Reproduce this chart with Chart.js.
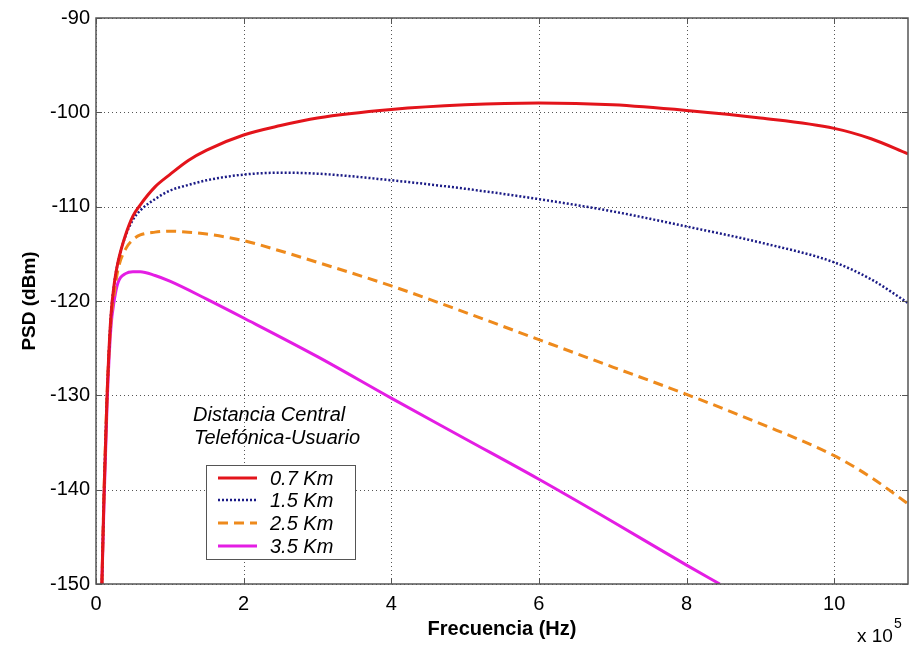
<!DOCTYPE html>
<html>
<head>
<meta charset="utf-8">
<script src="https://cdn.jsdelivr.net/npm/chart.js@4/dist/chart.umd.min.js"></script>
<style>
  html, body { margin: 0; padding: 0; background: #fff; }
  #wrap { width: 916px; height: 646px; }
</style>
</head>
<body>
<div id="wrap"><canvas id="c"></canvas></div>
<script>
// frequencies in units of 1e5 Hz
const freq = [0.08, 0.11, 0.15, 0.2, 0.25, 0.3, 0.4, 0.5, 0.6, 0.8, 1, 1.25, 1.5, 2, 2.5, 3, 4, 5, 6, 7, 8, 9, 10, 10.5, 11];
const freqMag = [0.08, 0.11, 0.15, 0.2, 0.25, 0.3, 0.4, 0.5, 0.6, 0.8, 1, 1.5, 2, 3, 4, 5, 6, 7, 8, 8.45];

const psd07 = [-150, -140, -130, -121.8, -118, -115.8, -113.0, -111.0, -109.8, -107.9, -106.6, -105.1, -104.0, -102.4, -101.4, -100.6, -99.7, -99.2, -99.0, -99.2, -99.8, -100.6, -101.7, -102.8, -104.4];
const psd15 = [-150, -140, -130, -121.8, -118, -115.8, -113.1, -111.4, -110.4, -109.2, -108.3, -107.7, -107.2, -106.6, -106.4, -106.5, -107.2, -108.1, -109.2, -110.5, -112.1, -113.8, -115.9, -117.7, -120.2];
const psd25 = [-150, -140, -130, -122.3, -119.0, -116.6, -114.5, -113.5, -113.0, -112.7, -112.6, -112.7, -112.9, -113.6, -114.7, -115.9, -118.4, -121.2, -124.1, -127.0, -129.9, -133.0, -136.4, -138.7, -141.5];
const psd35 = [-150, -141, -131, -123.0, -119.8, -118.0, -117.1, -116.9, -116.9, -117.3, -117.9, -119.8, -121.8, -125.9, -130.3, -134.6, -138.9, -143.4, -148.0, -150];

const labels = ['0.7 Km', '1.5 Km', '2.5 Km', '3.5 Km'];
const xTicks = [0, 2, 4, 6, 8, 10];
const yTicks = [-150, -140, -130, -120, -110, -100, -90];

const toPts = (xs, ys) => xs.map((x, i) => ({ x: x * 1e5, y: ys[i] }));

const styles = [
  { color: '#e3141b', width: 3, dash: [] },
  { color: '#1b1b86', width: 2.5, dash: [2, 2] },
  { color: '#ee8a1c', width: 3, dash: [10, 6] },
  { color: '#e41de4', width: 3, dash: [] }
];
const series = [toPts(freq, psd07), toPts(freq, psd15), toPts(freq, psd25), toPts(freqMag, psd35)];

const FONT = 'Arial, "Liberation Sans", sans-serif';

const decor = {
  id: 'decor',
  beforeDatasetsDraw(chart) {
    const { ctx, chartArea: a, scales: { x, y } } = chart;
    ctx.save();
    ctx.strokeStyle = '#555';
    ctx.lineWidth = 1;
    ctx.setLineDash([1, 3]);
    xTicks.forEach(t => {
      const px = Math.round(x.getPixelForValue(t * 1e5)) + 0.5;
      ctx.beginPath(); ctx.moveTo(px, a.top); ctx.lineTo(px, a.bottom); ctx.stroke();
    });
    yTicks.forEach(t => {
      const py = Math.round(y.getPixelForValue(t)) + 0.5;
      ctx.beginPath(); ctx.moveTo(a.left, py); ctx.lineTo(a.right, py); ctx.stroke();
    });
    ctx.restore();
  },
  afterDatasetsDraw(chart) {
    const { ctx, chartArea: a, scales: { x, y } } = chart;
    ctx.save();
    // frame + inward ticks
    ctx.strokeStyle = '#555';
    ctx.lineWidth = 1.5;
    ctx.setLineDash([]);
    ctx.strokeRect(a.left, a.top, a.right - a.left, a.bottom - a.top);
    ctx.lineWidth = 1;
    xTicks.forEach(t => {
      const px = Math.round(x.getPixelForValue(t * 1e5)) + 0.5;
      ctx.beginPath();
      ctx.moveTo(px, a.bottom); ctx.lineTo(px, a.bottom - 6);
      ctx.moveTo(px, a.top); ctx.lineTo(px, a.top + 6);
      ctx.stroke();
    });
    yTicks.forEach(t => {
      const py = Math.round(y.getPixelForValue(t)) + 0.5;
      ctx.beginPath();
      ctx.moveTo(a.left, py); ctx.lineTo(a.left + 6, py);
      ctx.moveTo(a.right, py); ctx.lineTo(a.right - 6, py);
      ctx.stroke();
    });

    // annotation
    ctx.fillStyle = '#000';
    ctx.font = 'italic 20px ' + FONT;
    ctx.textAlign = 'left';
    ctx.textBaseline = 'middle';
    ctx.fillText('Distancia Central', 193, 415);
    ctx.fillText('Telefónica-Usuario', 194, 438);

    // legend box
    ctx.fillStyle = '#fff';
    ctx.fillRect(206, 465, 149, 94);
    ctx.strokeStyle = '#555';
    ctx.lineWidth = 1;
    ctx.strokeRect(206.5, 465.5, 149, 94);
    const rows = [478, 500, 523, 546];
    labels.forEach((lab, i) => {
      const s = styles[i];
      ctx.strokeStyle = s.color;
      ctx.lineWidth = s.width;
      ctx.setLineDash(s.dash);
      ctx.beginPath(); ctx.moveTo(218, rows[i]); ctx.lineTo(257, rows[i]); ctx.stroke();
      ctx.setLineDash([]);
      ctx.fillStyle = '#000';
      ctx.fillText(lab, 270, rows[i] + 1);
    });

    // exponent label
    ctx.font = '19px ' + FONT;
    ctx.fillText('x 10', 857, 637);
    ctx.font = '14px ' + FONT;
    ctx.fillText('5', 894, 624);
    ctx.restore();
  }
};

new Chart(document.getElementById('c'), {
  type: 'line',
  data: {
    datasets: series.map((pts, i) => ({
      label: labels[i],
      data: pts,
      borderColor: styles[i].color,
      borderWidth: styles[i].width,
      borderDash: styles[i].dash,
      pointRadius: 0,
      fill: false,
      cubicInterpolationMode: 'monotone'
    }))
  },
  options: {
    responsive: true,
    maintainAspectRatio: false,
    animation: false,
    layout: { padding: { top: 18, right: 8, left: 0, bottom: 0 } },
    plugins: { legend: { display: false }, tooltip: { enabled: false } },
    scales: {
      x: {
        type: 'linear',
        min: 0,
        max: 11e5,
        afterFit: s => { s.height = 62; },
        afterBuildTicks: s => { s.ticks = xTicks.map(v => ({ value: v * 1e5 })); },
        grid: { display: false, drawTicks: false },
        border: { display: false },
        ticks: {
          padding: 8,
          color: '#000',
          font: { family: FONT, size: 20 },
          maxRotation: 0,
          autoSkip: false,
          callback: v => v / 1e5
        },
        title: {
          display: true,
          text: 'Frecuencia (Hz)',
          color: '#000',
          font: { family: FONT, size: 20, weight: 'bold' },
          padding: { top: 0, bottom: 5 }
        }
      },
      y: {
        type: 'linear',
        min: -150,
        max: -90,
        afterFit: s => { s.width = 96; },
        afterBuildTicks: s => { s.ticks = yTicks.map(v => ({ value: v })); },
        grid: { display: false, drawTicks: false },
        border: { display: false },
        ticks: {
          padding: 6,
          color: '#000',
          autoSkip: false,
          font: { family: FONT, size: 20 }
        },
        title: {
          display: true,
          text: 'PSD (dBm)',
          color: '#000',
          font: { family: FONT, size: 19, weight: 'bold' },
          padding: { top: 18, bottom: 0 }
        }
      }
    }
  },
  plugins: [decor]
});
</script>
</body>
</html>
